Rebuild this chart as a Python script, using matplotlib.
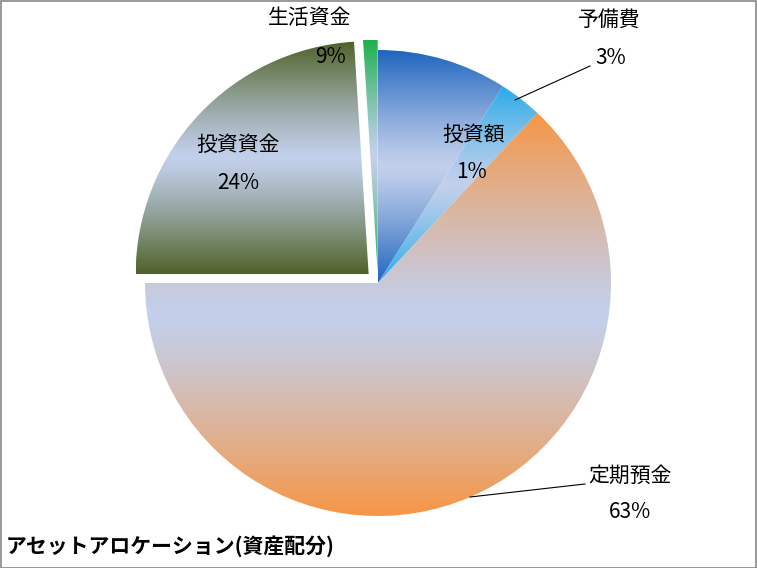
import numpy as np
import matplotlib.pyplot as plt
from matplotlib.colors import to_rgb

plt.rcParams['font.family'] = ['Noto Sans CJK JP', 'DejaVu Sans']

# slice data (clockwise from 12 o'clock)
values = [9, 3, 63, 24, 1]
names = ['投資額', '予備費', '定期預金', '投資資金', '生活資金']
pct_labels = ['1%', '3%', '63%', '24%', '9%']
colors = ['#1F65BE', '#29ABE8', '#F79646', '#4F6228', '#1DB04E']
explode = [0, 0, 0, 0.055, 0.045]
title = 'アセットアロケーション(資産配分)'

light = np.array(to_rgb('#C3D0EC'))

W, H = 757, 568
cx, cy, R = 378, 283, 233


def px(x, y):
    # pixel position (from top-left) -> data coords
    return (x - cx) / R, (cy - y) / R


fig = plt.figure(figsize=(W / 100, H / 100), dpi=100)
ax = fig.add_axes([0, 0, 1, 1])

wedges, _ = ax.pie(values, colors=colors, startangle=90, counterclock=False,
                   explode=explode, radius=1.0,
                   wedgeprops=dict(linewidth=0))

ax.set_xlim(-cx / R, (W - cx) / R)
ax.set_ylim(-(H - cy) / R, cy / R)
ax.set_aspect('equal')
ax.axis('off')

# mirrored vertical gradient in each wedge: colour - lavender - colour
for w, c in zip(wedges, colors):
    ext = w.get_path().get_extents()
    s = np.linspace(0, 1, 256)
    t = np.abs(2 * s - 1) ** 1.2
    base = np.array(to_rgb(c))
    grad = light[None, :] + (base - light)[None, :] * t[:, None]
    img = np.repeat(grad[:, None, :], 2, axis=1)
    w.set_facecolor('none')
    im = ax.imshow(img, extent=(ext.x0, ext.x1, ext.y0, ext.y1),
                   origin='lower', aspect='auto', interpolation='bilinear',
                   zorder=1)
    im.set_clip_path(w)

ax.set_xlim(-cx / R, (W - cx) / R)
ax.set_ylim(-(H - cy) / R, cy / R)

# labels
fs = 15
label_pos = [(474, 135, 472, 172), (609, 20, 611, 58), (630, 476, 630, 512),
             (238, 145, 238, 183), (310, 18, 331, 57)]
for (nx, ny, vx, vy), n, p in zip(label_pos, names, pct_labels):
    ax.text(*px(nx, ny), n, ha='center', va='center', fontsize=fs, zorder=5)
    ax.text(*px(vx, vy), p, ha='center', va='center', fontsize=fs, zorder=5)

# leader lines
for (x0, y0), (x1, y1) in [((590, 66), (515, 100)), ((585, 484), (470, 497))]:
    a, b = px(x0, y0), px(x1, y1)
    ax.plot([a[0], b[0]], [a[1], b[1]], color='black', lw=0.8, zorder=4)

ax.text(*px(6, 546), title, ha='left', va='center', fontsize=15,
        fontweight='bold', zorder=5)

# chart border
fig.patches.append(plt.Rectangle((0.5 / W, 0.5 / H), 1 - 1.5 / W, 1 - 1.5 / H,
                                 transform=fig.transFigure, fill=False,
                                 edgecolor='#888888', lw=1.2))

fig.savefig('out.png', dpi=100)
